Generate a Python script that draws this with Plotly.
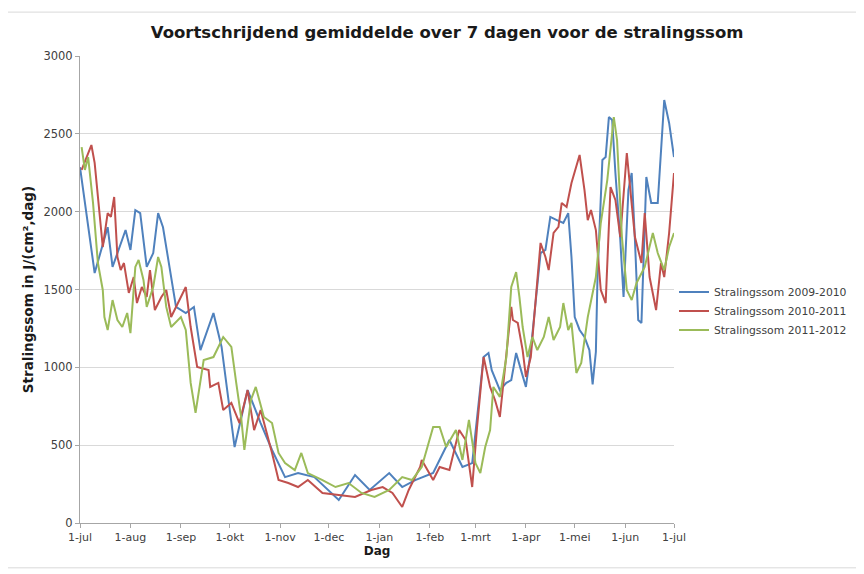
import pandas as pd
import plotly.graph_objects as go

# Day number since 1 July, value (J/(cm2,dag))
days_0910 = [0, 9, 17, 20, 28, 31, 34, 37, 41, 45, 48, 51, 59, 65, 70, 74, 82, 87, 95, 103, 111, 118, 126, 134, 144, 159, 169, 178, 190, 198, 206, 217, 227, 235, 241, 248, 251, 253, 258, 262, 265, 268, 271, 274, 277, 280, 283, 286, 289, 293, 297, 300, 302, 304, 307, 310, 313, 315, 317, 318, 321, 323, 325, 327, 329, 332, 334, 337, 339, 341, 343, 345, 348, 351, 355, 359, 362, 365]
vals_0910 = [2286, 1606, 1900, 1645, 1882, 1754, 2010, 1991, 1645, 1734, 1991, 1900, 1388, 1349, 1388, 1111, 1349, 1131, 488, 854, 642, 469, 295, 321, 295, 148, 308, 212, 321, 231, 276, 321, 533, 360, 385, 1066, 1092, 982, 854, 900, 918, 1092, 982, 874, 1111, 1413, 1734, 1754, 1966, 1946, 1927, 1991, 1709, 1323, 1240, 1195, 1111, 890, 1100, 1580, 2332, 2351, 2608, 2589, 2248, 1818, 1452, 2139, 2248, 1818, 1304, 1285, 2223, 2056, 2056, 2717, 2570, 2351]

days_1011 = [1, 7, 9, 12, 14, 17, 19, 21, 23, 25, 27, 30, 33, 35, 38, 41, 43, 46, 50, 53, 56, 65, 68, 72, 79, 80, 85, 88, 93, 98, 103, 107, 111, 118, 122, 128, 134, 140, 149, 159, 169, 179, 186, 192, 198, 202, 209, 210, 217, 221, 227, 233, 237, 241, 244, 248, 252, 255, 258, 261, 265, 266, 269, 272, 274, 277, 280, 283, 286, 288, 291, 294, 296, 299, 302, 307, 310, 312, 314, 317, 320, 323, 326, 329, 332, 336, 338, 341, 345, 347, 350, 354, 357, 359, 362, 365]
vals_1011 = [2268, 2428, 2313, 2011, 1773, 1991, 1966, 2094, 1709, 1625, 1670, 1478, 1580, 1413, 1516, 1452, 1625, 1368, 1452, 1497, 1323, 1516, 1259, 1002, 982, 874, 900, 726, 771, 642, 854, 597, 726, 450, 276, 257, 231, 276, 193, 180, 167, 212, 231, 193, 103, 212, 360, 405, 276, 360, 340, 597, 533, 231, 617, 1066, 874, 790, 681, 982, 1388, 1304, 1285, 1111, 938, 1066, 1452, 1799, 1709, 1625, 1863, 1902, 2056, 2030, 2184, 2364, 2139, 1946, 2011, 1882, 1497, 1413, 2158, 2075, 1837, 2377, 2158, 1837, 1670, 1991, 1580, 1368, 1670, 1580, 1863, 2248]

days_1112 = [1, 3, 5, 8, 11, 14, 15, 17, 20, 23, 26, 29, 31, 34, 36, 39, 41, 45, 48, 50, 53, 56, 62, 65, 68, 71, 76, 82, 88, 93, 96, 99, 101, 105, 108, 113, 118, 122, 126, 132, 136, 140, 149, 157, 165, 173, 181, 190, 198, 204, 210, 217, 221, 225, 231, 235, 239, 243, 246, 249, 252, 254, 258, 262, 265, 268, 270, 272, 275, 278, 281, 285, 288, 291, 295, 297, 300, 302, 305, 308, 312, 317, 320, 324, 328, 330, 333, 336, 339, 342, 347, 350, 352, 355, 359, 362, 365]
vals_1112 = [2415, 2268, 2351, 2056, 1670, 1497, 1323, 1240, 1432, 1304, 1259, 1349, 1220, 1645, 1690, 1561, 1388, 1516, 1709, 1645, 1388, 1259, 1323, 1240, 900, 707, 1047, 1066, 1195, 1131, 900, 681, 469, 790, 874, 681, 642, 450, 385, 340, 450, 321, 276, 231, 257, 193, 167, 212, 295, 276, 360, 617, 617, 488, 597, 405, 662, 385, 321, 488, 597, 874, 810, 1066, 1516, 1612, 1452, 1259, 1066, 1195, 1111, 1195, 1323, 1176, 1259, 1413, 1240, 1285, 964, 1028, 1323, 1580, 1927, 2203, 2608, 2460, 1837, 1497, 1432, 1542, 1645, 1773, 1863, 1734, 1625, 1773, 1863]

series_names = ["Stralingssom 2009-2010", "Stralingssom 2010-2011", "Stralingssom 2011-2012"]
series_colors = ["#4F81BD", "#C0504D", "#9BBB59"]

tick_dates = ["2009-07-01", "2009-08-01", "2009-09-01", "2009-10-01", "2009-11-01", "2009-12-01",
              "2010-01-01", "2010-02-01", "2010-03-01", "2010-04-01", "2010-05-01", "2010-06-01", "2010-07-01"]
tick_labels = ["1-jul", "1-aug", "1-sep", "1-okt", "1-nov", "1-dec", "1-jan", "1-feb", "1-mrt",
               "1-apr", "1-mei", "1-jun", "1-jul"]

base = pd.Timestamp("2009-07-01")

def to_dates(days):
    return [base + pd.Timedelta(days=d) for d in days]

fig = go.Figure()
for d, v, name, col in zip([days_0910, days_1011, days_1112],
                           [vals_0910, vals_1011, vals_1112],
                           series_names, series_colors):
    fig.add_trace(go.Scatter(x=to_dates(d), y=v, mode="lines", name=name,
                             line=dict(color=col, width=2)))

fig.update_layout(
    width=856, height=566,
    margin=dict(l=72, r=190, t=48, b=51),
    paper_bgcolor="white", plot_bgcolor="white",
    font=dict(family="DejaVu Sans", size=11, color="#404040"),
    title=dict(text="<b>Voortschrijdend gemiddelde over 7 dagen voor de stralingssom</b>",
               x=0.513, xanchor="center", y=0.958, yanchor="middle",
               font=dict(family="DejaVu Sans", size=16.5, color="#1a1a1a")),
    legend=dict(x=1.0, xanchor="left", y=0.454, yanchor="middle",
                font=dict(family="DejaVu Sans", size=10.8, color="#404040"),
                bgcolor="rgba(0,0,0,0)", tracegroupgap=0, borderwidth=0),
    showlegend=True,
    shapes=[dict(type="rect", xref="paper", yref="paper", x0=-0.127, x1=1.33, y0=-0.096, y1=1.094,
                 line=dict(color="#d9d9d9", width=1), fillcolor="rgba(0,0,0,0)", layer="below")],
)
fig.update_xaxes(
    type="date", range=[tick_dates[0], tick_dates[-1]],
    tickvals=tick_dates, ticktext=tick_labels, tickangle=0,
    showgrid=False, showline=True, linecolor="#a6a6a6", linewidth=1,
    ticks="outside", ticklen=4, tickcolor="#a6a6a6",
    tickfont=dict(size=11, color="#404040"),
    title=dict(text="<b>Dag</b>", font=dict(size=12, color="#1a1a1a"), standoff=2),
)
fig.update_yaxes(
    range=[0, 3000], dtick=500, tickformat="d",
    showgrid=True, gridcolor="#d9d9d9", gridwidth=1,
    showline=True, linecolor="#a6a6a6", linewidth=1,
    ticks="outside", ticklen=4, tickcolor="#a6a6a6",
    tickfont=dict(size=11.5, color="#404040"),
    zeroline=False,
    title=dict(text="<b>Stralingssom in J/(cm²,dag)</b>", font=dict(size=13.5, color="#1a1a1a"), standoff=6),
)

fig.write_html("out.html")
